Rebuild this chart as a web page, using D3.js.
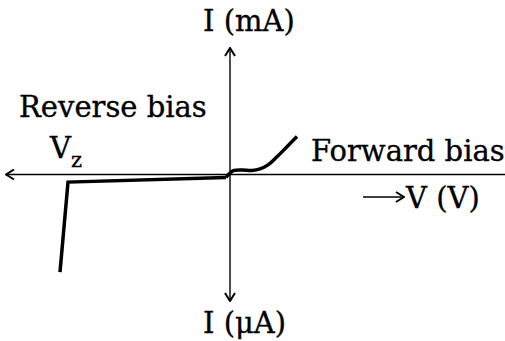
<!DOCTYPE html>
<html lang="en">
<head>
<meta charset="utf-8">
<title>Zener diode characteristic</title>
<script src="https://d3js.org/d3.v7.min.js"></script>
<style>
  body { margin: 0; background: #fff; }
  svg text { font-family: "DejaVu Serif", "Liberation Serif", serif; fill: #000; stroke: #000; stroke-width: 0.35; }
</style>
</head>
<body>
<script>
// chart size
const w = 505, h = 341;

// axis extents (data units)
const vDomain = [-4.5, 5.5];
const iDomain = [-2.5, 2.5];

// reverse branch: breakdown at Vz, then small leakage current
const reverseV = [-3.4, -3.24, -0.08];
const reverseI = [-1.93, -0.15, -0.06];

// forward branch
const forwardV = [-0.08, 0.0, 0.08, 0.24, 0.44, 0.6, 0.76, 0.94, 1.14, 1.34];
const forwardI = [-0.06, 0.03, 0.08, 0.09, 0.08, 0.11, 0.19, 0.35, 0.55, 0.75];

const xScale = d3.scaleLinear().domain(vDomain).range([5, 505]);
const yScale = d3.scaleLinear().domain(iDomain).range([301, 48]);

const svg = d3.select("body").append("svg")
  .attr("width", w)
  .attr("height", h);

// open chevron arrowhead
svg.append("defs").append("marker")
  .attr("id", "arrow")
  .attr("viewBox", "0 0 12 12")
  .attr("refX", 11)
  .attr("refY", 6)
  .attr("markerWidth", 12)
  .attr("markerHeight", 12)
  .attr("markerUnits", "userSpaceOnUse")
  .attr("orient", "auto-start-reverse")
  .append("path")
  .attr("d", "M3,1 L11,6 L3,11")
  .attr("fill", "none")
  .attr("stroke", "#000")
  .attr("stroke-width", 2);

// horizontal axis (V)
svg.append("line")
  .attr("x1", xScale(vDomain[0]) + 1).attr("x2", xScale(vDomain[1]))
  .attr("y1", yScale(0)).attr("y2", yScale(0))
  .attr("stroke", "#000").attr("stroke-width", 1.4)
  .attr("marker-start", "url(#arrow)");

// vertical axis (I)
svg.append("line")
  .attr("x1", xScale(0)).attr("x2", xScale(0))
  .attr("y1", yScale(iDomain[0])).attr("y2", yScale(iDomain[1]))
  .attr("stroke", "#000").attr("stroke-width", 1.4)
  .attr("marker-start", "url(#arrow)")
  .attr("marker-end", "url(#arrow)");

const reverse = reverseV.map((v, i) => [v, reverseI[i]]);
const forward = forwardV.map((v, i) => [v, forwardI[i]]);

svg.append("path")
  .datum(reverse)
  .attr("fill", "none")
  .attr("stroke", "#000")
  .attr("stroke-width", 3.5)
  .attr("stroke-linejoin", "miter")
  .attr("d", d3.line().x(d => xScale(d[0])).y(d => yScale(d[1])));

svg.append("path")
  .datum(forward)
  .attr("fill", "none")
  .attr("stroke", "#000")
  .attr("stroke-width", 3.5)
  .attr("d", d3.line().curve(d3.curveCatmullRom).x(d => xScale(d[0])).y(d => yScale(d[1])));

// labels
const fs = 29;
svg.append("text").attr("x", 203).attr("y", 31)
  .attr("font-size", fs).text("I (mA)");

svg.append("text").attr("x", 203).attr("y", 333)
  .attr("font-size", fs).text("I (μA)");

svg.append("text").attr("x", 19).attr("y", 117)
  .attr("font-size", fs).text("Reverse bias");

const vz = svg.append("text").attr("x", 50).attr("y", 158).attr("font-size", fs);
vz.append("tspan").text("V");
vz.append("tspan").attr("font-size", 21).attr("dy", 9).text("z");

svg.append("text").attr("x", 311).attr("y", 161)
  .attr("font-size", fs).text("Forward bias");

// V axis label with small arrow
svg.append("line")
  .attr("x1", 363).attr("x2", 404)
  .attr("y1", 197).attr("y2", 197)
  .attr("stroke", "#000").attr("stroke-width", 1.4)
  .attr("marker-end", "url(#arrow)");
svg.append("text").attr("x", 406).attr("y", 208)
  .attr("font-size", fs).text("V (V)");
</script>
</body>
</html>
